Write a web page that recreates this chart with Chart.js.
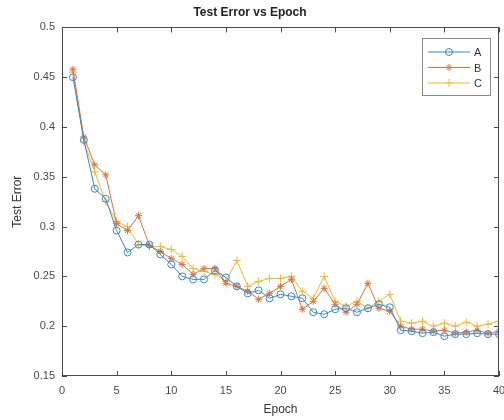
<!DOCTYPE html>
<html>
<head>
<meta charset="utf-8">
<script src="https://cdn.jsdelivr.net/npm/chart.js@4.4.1/dist/chart.umd.min.js"></script>
<style>
  html, body { margin: 0; padding: 0; background: #fff; }
  #wrap { width: 504px; height: 420px; }
</style>
</head>
<body>
<div id="wrap"><canvas id="errChart" width="504" height="420"></canvas></div>
<script>
// epochs and test error per run
const epochs = [1, 2, 3, 4, 5, 6, 7, 8, 9, 10, 11, 12, 13, 14, 15, 16, 17, 18, 19, 20,
    21, 22, 23, 24, 25, 26, 27, 28, 29, 30, 31, 32, 33, 34, 35, 36, 37, 38, 39, 40];
const errA = [0.450, 0.387, 0.338, 0.328, 0.296, 0.274, 0.282, 0.282, 0.272, 0.262,
    0.250, 0.247, 0.247, 0.256, 0.249, 0.240, 0.233, 0.236, 0.228, 0.232,
    0.230, 0.228, 0.214, 0.212, 0.217, 0.218, 0.214, 0.218, 0.222, 0.219,
    0.196, 0.195, 0.193, 0.194, 0.190, 0.192, 0.192, 0.193, 0.192, 0.192];
const errB = [0.458, 0.390, 0.362, 0.352, 0.303, 0.296, 0.311, 0.281, 0.275, 0.268,
    0.262, 0.252, 0.258, 0.258, 0.243, 0.240, 0.235, 0.227, 0.233, 0.240,
    0.247, 0.217, 0.225, 0.238, 0.222, 0.214, 0.222, 0.243, 0.218, 0.215,
    0.200, 0.197, 0.197, 0.195, 0.196, 0.193, 0.194, 0.196, 0.193, 0.195];
const errC = [0.455, 0.385, 0.355, 0.325, 0.305, 0.300, 0.282, 0.280, 0.280, 0.277,
    0.270, 0.258, 0.255, 0.252, 0.245, 0.266, 0.240, 0.245, 0.248, 0.248,
    0.250, 0.235, 0.228, 0.250, 0.225, 0.220, 0.225, 0.218, 0.225, 0.232,
    0.205, 0.203, 0.205, 0.200, 0.203, 0.200, 0.204, 0.200, 0.202, 0.205];
const seriesNames = ['A', 'B', 'C'];
const xTicks = [0, 5, 10, 15, 20, 25, 30, 35, 40];
const yTicks = [0.15, 0.2, 0.25, 0.3, 0.35, 0.4, 0.45, 0.5];

const axisColor = '#4a4a4a';
const fontFamily = '"Liberation Sans", Arial, sans-serif';

function points(vals) {
    return vals.map((v, i) => ({ x: epochs[i], y: v }));
}

// MATLAB style box with inward ticks on all four sides
const boxPlugin = {
    id: 'boxPlugin',
    afterDatasetsDraw(chart) {
        const { ctx, chartArea: a, scales: { x, y } } = chart;
        ctx.save();
        ctx.strokeStyle = axisColor;
        ctx.lineWidth = 1;
        ctx.strokeRect(Math.round(a.left) + 0.5, Math.round(a.top) + 0.5,
            Math.round(a.width) - 1, Math.round(a.height) - 1);
        ctx.beginPath();
        x.ticks.forEach(t => {
            const px = Math.round(x.getPixelForValue(t.value)) + 0.5;
            ctx.moveTo(px, a.bottom); ctx.lineTo(px, a.bottom - 5);
            ctx.moveTo(px, a.top); ctx.lineTo(px, a.top + 5);
        });
        y.ticks.forEach(t => {
            const py = Math.round(y.getPixelForValue(t.value)) + 0.5;
            ctx.moveTo(a.left, py); ctx.lineTo(a.left + 5, py);
            ctx.moveTo(a.right, py); ctx.lineTo(a.right - 5, py);
        });
        ctx.stroke();
        ctx.restore();
    }
};

// legend inside the axes, line sample with marker in the middle
const legendPlugin = {
    id: 'legendPlugin',
    afterDraw(chart) {
        const { ctx } = chart;
        const bx = 422, by = 38, bw = 68, bh = 57;
        ctx.save();
        ctx.fillStyle = '#fff';
        ctx.fillRect(bx, by, bw, bh);
        ctx.strokeStyle = '#8a8a8a';
        ctx.lineWidth = 1;
        ctx.strokeRect(bx + 0.5, by + 0.5, bw, bh);
        ctx.font = '11px ' + fontFamily;
        ctx.textBaseline = 'middle';
        chart.data.datasets.forEach((ds, i) => {
            const ly = by + 14 + i * 15.5;
            ctx.strokeStyle = ds.borderColor;
            ctx.lineWidth = 1;
            ctx.beginPath();
            ctx.moveTo(bx + 6, ly);
            ctx.lineTo(bx + 48, ly);
            ctx.stroke();
            ctx.fillStyle = 'rgba(0,0,0,0)';
            Chart.helpers.drawPoint(ctx, {
                pointStyle: ds.pointStyle, radius: ds.pointRadius,
                borderWidth: 1, rotation: 0
            }, bx + 27, ly);
            ctx.fillStyle = '#333';
            ctx.fillText(ds.label, bx + 52, ly + 1);
        });
        ctx.restore();
    }
};

const ctx = document.getElementById('errChart');
new Chart(ctx, {
    type: 'line',
    data: {
        datasets: [{
            label: seriesNames[0],
            data: points(errA),
            borderColor: 'rgb(60, 135, 205)',
            backgroundColor: 'rgba(0,0,0,0)',
            pointStyle: 'circle',
            pointRadius: 3.5,
            borderWidth: 1,
            pointBorderWidth: 1
        }, {
            label: seriesNames[1],
            data: points(errB),
            borderColor: 'rgb(222, 115, 60)',
            backgroundColor: 'rgba(0,0,0,0)',
            pointStyle: 'star',
            pointRadius: 3.5,
            borderWidth: 1,
            pointBorderWidth: 1
        }, {
            label: seriesNames[2],
            data: points(errC),
            borderColor: 'rgb(238, 185, 55)',
            backgroundColor: 'rgba(0,0,0,0)',
            pointStyle: 'cross',
            pointRadius: 4,
            borderWidth: 1,
            pointBorderWidth: 1
        }]
    },
    options: {
        responsive: false,
        animation: false,
        layout: { padding: { left: 0, right: 4, top: 0, bottom: 0 } },
        scales: {
            x: {
                type: 'linear',
                min: 0,
                max: 40,
                afterBuildTicks: s => { s.ticks = xTicks.map(v => ({ value: v })); },
                afterFit: s => { s.height = 44; s.paddingLeft = 0; s.paddingRight = 0; },
                grid: { display: false, drawTicks: false },
                border: { display: false },
                ticks: {
                    padding: 8,
                    color: axisColor,
                    font: { family: fontFamily, size: 11 },
                    maxRotation: 0,
                    autoSkip: false
                },
                title: {
                    display: true,
                    text: 'Epoch',
                    color: '#333',
                    font: { family: fontFamily, size: 12 },
                    padding: { top: 0, bottom: 3 }
                }
            },
            y: {
                min: 0.15,
                max: 0.5,
                afterBuildTicks: s => { s.ticks = yTicks.map(v => ({ value: v })); },
                afterFit: s => { s.width = 62; s.paddingTop = 0; s.paddingBottom = 0; },
                grid: { display: false, drawTicks: false },
                border: { display: false },
                ticks: {
                    padding: 7,
                    color: axisColor,
                    font: { family: fontFamily, size: 11 },
                    autoSkip: false,
                    callback: v => String(Math.round(v * 100) / 100)
                },
                title: {
                    display: true,
                    text: 'Test Error',
                    color: '#333',
                    font: { family: fontFamily, size: 12 },
                    padding: { top: 10, bottom: 0 }
                }
            }
        },
        plugins: {
            legend: { display: false },
            tooltip: { enabled: false },
            title: {
                display: true,
                text: 'Test Error vs Epoch',
                color: '#222',
                font: { family: fontFamily, size: 12, weight: 'bold' },
                padding: { top: 5, bottom: 8 }
            }
        }
    },
    plugins: [boxPlugin, legendPlugin]
});
</script>
</body>
</html>
